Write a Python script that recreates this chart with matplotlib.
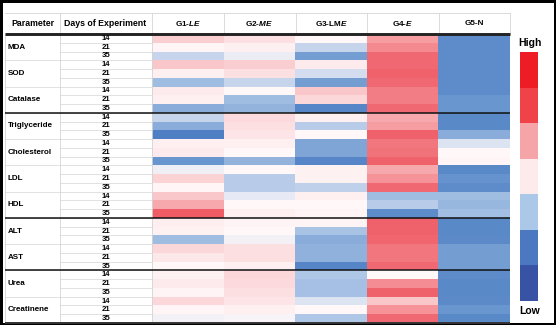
import numpy as np
import matplotlib
matplotlib.use("Agg")
import matplotlib.pyplot as plt
from matplotlib.colors import LinearSegmentedColormap, ListedColormap

plt.rcParams['font.family'] = ['Liberation Sans', 'DejaVu Sans']
plt.rcParams['mathtext.fontset'] = 'custom'
plt.rcParams['mathtext.it'] = 'Liberation Sans:italic:bold'
plt.rcParams['mathtext.rm'] = 'Liberation Sans:bold'

# ---------------- data ----------------
parameters = ["MDA", "SOD", "Catalase", "Triglyceride", "Cholesterol", "LDL",
              "HDL", "ALT", "AST", "Urea", "Creatinene"]
days = ["14", "21", "35"]
groups = ["G1-$\\it{LE}$", "G2-$\\it{ME}$", "G3-LM$\\it{E}$", "G4-$\\it{E}$", "G5-N"]

g1 = [0.25, 0.02, -0.20,  0.30, 0.05, -0.35,  0.08, 0.05, -0.45,
      -0.20, -0.45, -0.95,  0.05, 0.08, -0.60,  -0.05, 0.22, 0.02,
      0.30, 0.45, 0.95,  0.06, 0.04, -0.35,  0.20, 0.10, 0.00,
      0.04, 0.08, 0.03,  0.20, 0.02, -0.04]
g2 = [0.15, 0.05, -0.07,  0.25, 0.15, -0.20,  0.00, -0.35, -0.40,
      0.18, 0.15, 0.12,  0.05, 0.00, -0.40,  0.00, -0.25, -0.25,
      -0.08, 0.00, 0.05,  0.03, 0.00, -0.04,  0.15, 0.15, 0.05,
      0.20, 0.18, 0.15,  0.12, 0.05, -0.03]
g3 = [0.00, -0.20, -0.55,  0.08, -0.15, -0.55,  0.30, 0.20, -0.85,
      0.05, -0.25, 0.00,  -0.50, -0.50, -0.85,  0.04, 0.04, -0.22,
      0.05, 0.00, 0.03,  0.03, -0.30, -0.45,  -0.42, -0.42, -0.85,
      -0.28, -0.32, -0.32,  -0.12, 0.00, -0.28]
g4 = [0.50, 0.60, 0.85,  0.85, 0.90, 0.85,  0.70, 0.70, 0.85,
      0.45, 0.50, 0.90,  0.75, 0.78, 0.90,  0.45, 0.55, 0.85,
      -0.35, -0.25, -0.75,  0.90, 0.90, 0.88,  0.75, 0.75, 0.85,
      0.00, 0.58, 0.90,  0.30, 0.55, 0.85]
g5 = [-0.75, -0.75, -0.75,  -0.75, -0.75, -0.75,  -0.75, -0.60, -0.60,
      -0.80, -0.80, -0.45,  -0.12, 0.00, 0.02,  -0.80, -0.65, -0.75,
      -0.35, -0.38, -0.33,  -0.80, -0.80, -0.78,  -0.55, -0.55, -0.55,
      -0.75, -0.80, -0.80,  -0.78, -0.60, -0.80]

legend_colors = ["#ee1c25", "#ef4249", "#f5a5a8", "#fdeaeb", "#abc8e8", "#4b78c0", "#3953a4"]

# ---------------- figure ----------------
W, H = 556, 325
fig = plt.figure(figsize=(W / 100, H / 100), dpi=100)
fig.patch.set_facecolor("white")
fig.patch.set_edgecolor("black")
fig.patch.set_linewidth(2.2)

L, R, T, B = 152, 510, 34, 323
ax = fig.add_axes([L / W, (H - B) / H, (R - L) / W, (B - T) / H])
data = np.array([g1, g2, g3, g4, g5]).T
nrow, ncol = data.shape

cmap = LinearSegmentedColormap.from_list(
    "hm", [(0.0, "#4a7cc2"), (0.2, "#6a96cf"), (0.35, "#a9c3e5"), (0.5, "#fff8f9"),
           (0.65, "#f9c6c9"), (0.8, "#f48a90"), (1.0, "#ee5660")])
ax.pcolormesh(np.arange(ncol + 1), np.arange(nrow + 1), data, cmap=cmap,
              vmin=-1, vmax=1, shading="flat")
ax.set_xlim(0, ncol)
ax.set_ylim(nrow, 0)
ax.axis("off")

cw = (R - L) / ncol
rh = (B - T) / nrow
def X(px):
    return (px - L) / cw
def Y(py):
    return (py - T) / rh

grey = "#d4d4d4"
kw = dict(clip_on=False)
# header
htop = Y(13)
hmid = Y(23.5)
ax.plot([X(5), X(R)], [htop, htop], color=grey, lw=0.6, **kw)
for px in [60, 152, 224, 296, 367, 439, 510]:
    ax.plot([X(px), X(px)], [htop, 0], color=grey, lw=0.6, **kw)
ax.text(X(33), hmid, "Parameter", ha="center", va="center", fontsize=6.3, fontweight="bold", **kw)
ax.text(X(105), hmid, "Days of Experiment", ha="center", va="center", fontsize=6.3, fontweight="bold", **kw)
for j, g in enumerate(groups):
    ax.text(j + 0.5, hmid, g, ha="center", va="center", fontsize=5.9, fontweight="bold", **kw)

# left columns grid
for px in [5, 60, 152]:
    ax.plot([X(px), X(px)], [0, nrow], color=grey, lw=0.6, **kw)
for r in range(1, nrow):
    x0 = X(5) if r % 3 == 0 else X(60)
    ax.plot([x0, 0], [r, r], color=grey, lw=0.5, **kw)

# labels
for i, p in enumerate(parameters):
    ax.text(X(8), 3 * i + 1.5, p, ha="left", va="center", fontsize=5.8, fontweight="bold", **kw)
    for k, d in enumerate(days):
        ax.text(X(106), 3 * i + k + 0.5, d, ha="center", va="center", fontsize=5.6, fontweight="bold", **kw)

# thick separators
ax.plot([X(5), X(R)], [0, 0], color="#222222", lw=2.1, solid_capstyle="butt", **kw)
for r in [9, 21, 27]:
    ax.plot([X(5), X(R)], [r, r], color="#111111", lw=1.1, solid_capstyle="butt", **kw)
ax.plot([X(5), X(R)], [nrow, nrow], color="#333333", lw=1.4, solid_capstyle="butt", **kw)

# legend
lt, lb = 51.7, 300.7
lax = fig.add_axes([520 / W, (H - lb) / H, 18 / W, (lb - lt) / H])
lax.imshow(np.arange(len(legend_colors)).reshape(-1, 1), cmap=ListedColormap(legend_colors),
           aspect="auto", interpolation="nearest")
lax.axis("off")
fig.text(529.5 / W, 1 - 43 / H, "High", ha="center", va="center", fontsize=7.5, fontweight="bold")
fig.text(529.5 / W, 1 - 311.5 / H, "Low", ha="center", va="center", fontsize=7.5, fontweight="bold")

fig.savefig("out.png", dpi=100)
